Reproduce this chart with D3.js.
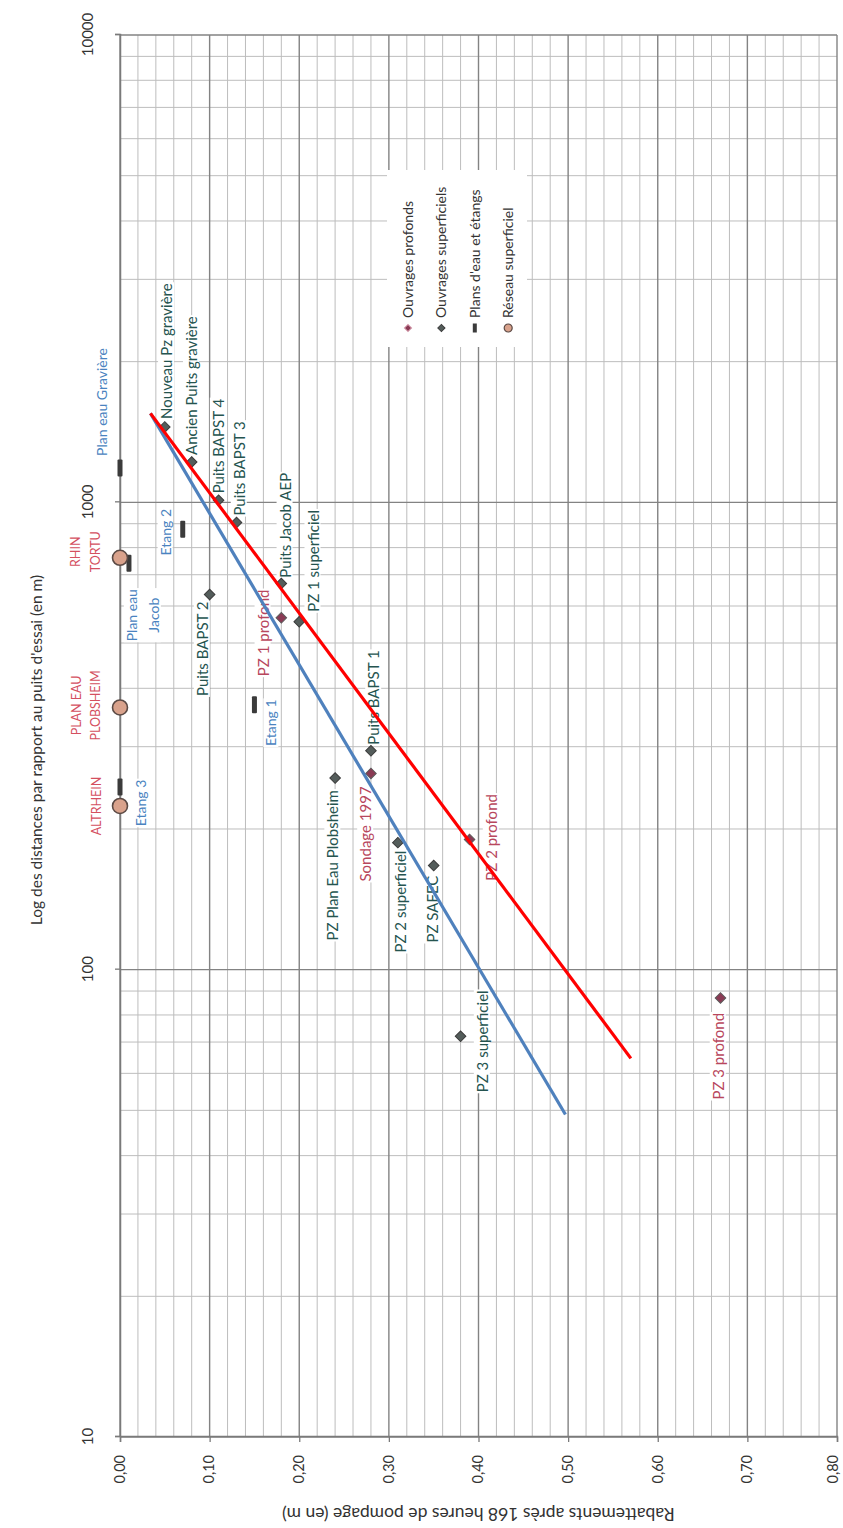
<!DOCTYPE html>
<html>
<head>
<meta charset="utf-8">
<script src="https://cdn.jsdelivr.net/npm/d3@7"></script>
<style>
  body { margin: 0; background: #fff; }
  svg { display: block; }
  text { font-family: Lato, "Open Sans", sans-serif; }
</style>
</head>
<body>
<svg id="chart" width="843" height="1528"></svg>
<script>
// ---- Data: drawdown after 168 h of pumping vs distance to the test well ----
// Deep wells
const profondsNoms = ["PZ 1 profond", "Sondage 1997", "PZ 2 profond", "PZ 3 profond"];
const profondsRab  = [0.18, 0.28, 0.39, 0.67];
const profondsDist = [566, 263, 190, 87];

// Shallow wells
const superficielsNoms = ["Nouveau Pz gravière", "Ancien Puits gravière", "Puits BAPST 4", "Puits BAPST 3",
  "Puits Jacob AEP", "PZ 1 superficiel", "Puits BAPST 2", "PZ Plan Eau Plobsheim", "Puits BAPST 1",
  "PZ 2 superficiel", "PZ SAFEC", "PZ 3 superficiel"];
const superficielsRab  = [0.05, 0.08, 0.11, 0.13, 0.18, 0.20, 0.10, 0.24, 0.28, 0.31, 0.35, 0.38];
const superficielsDist = [1450, 1220, 1010, 905, 670, 555, 635, 257, 294, 187, 167, 72];

// Lakes and ponds
const plansEauNoms = ["Plan eau Gravière", "Etang 2", "Plan eau\nJacob", "Etang 1", "Etang 3"];
const plansEauRab  = [0.00, 0.07, 0.01, 0.15, 0.00];
const plansEauDist = [1185, 876, 741, 369, 246];

// Surface network
const reseauNoms = ["RHIN\nTORTU", "PLAN EAU\nPLOBSHEIM", "ALTRHEIN"];
const reseauRab  = [0.00, 0.00, 0.00];
const reseauDist = [761, 364, 224];

// Fitted trend lines (end points)
const tendanceRougeDist = [1550, 64.6];
const tendanceRougeRab  = [0.034, 0.570];
const tendanceBleueDist = [1550, 49];
const tendanceBleueRab  = [0.034, 0.497];

// Axis ticks
const distTicks = [10, 100, 1000, 10000];
const rabTicks = [0, 0.1, 0.2, 0.3, 0.4, 0.5, 0.6, 0.7, 0.8];

const legendeNoms = ["Ouvrages profonds", "Ouvrages superficiels", "Plans d'eau et étangs", "Réseau superficiel"];

// ---- Label placement (local frame: du along distance axis, dv along drawdown axis) ----
const labelPlacement = {
  "Nouveau Pz gravière":   { anchor: "start",  du: 8,   dv: [2] },
  "Ancien Puits gravière": { anchor: "start",  du: 7,   dv: [0] },
  "Puits BAPST 4":         { anchor: "start",  du: 7,   dv: [0] },
  "Puits BAPST 3":         { anchor: "start",  du: 7,   dv: [3] },
  "Puits Jacob AEP":       { anchor: "start",  du: 6,   dv: [4] },
  "PZ 1 superficiel":      { anchor: "start",  du: 10,  dv: [14] },
  "Puits BAPST 2":         { anchor: "end",    du: -7,  dv: [-7] },
  "PZ Plan Eau Plobsheim": { anchor: "end",    du: -12, dv: [-2] },
  "Puits BAPST 1":         { anchor: "start",  du: 6,   dv: [3] },
  "PZ 2 superficiel":      { anchor: "end",    du: -8,  dv: [3] },
  "PZ SAFEC":              { anchor: "end",    du: -10, dv: [-1] },
  "PZ 3 superficiel":      { anchor: "middle", du: -5,  dv: [22] },
  "PZ 1 profond":          { anchor: "middle", du: -15, dv: [-18] },
  "Sondage 1997":          { anchor: "end",    du: -13, dv: [-5] },
  "PZ 2 profond":          { anchor: "middle", du: 2,   dv: [22] },
  "PZ 3 profond":          { anchor: "end",    du: -15, dv: [-2] },
  "Plan eau Gravière":     { anchor: "start",  du: 12,  dv: [-18] },
  "Etang 2":               { anchor: "middle", du: -3,  dv: [-17] },
  "Plan eau\nJacob":       { anchor: "middle", du: -52, dv: [3, 25] },
  "Etang 1":               { anchor: "middle", du: -18, dv: [17] },
  "Etang 3":               { anchor: "middle", du: -16, dv: [21] },
  "RHIN\nTORTU":           { anchor: "middle", du: 6,   dv: [-44, -24] },
  "PLAN EAU\nPLOBSHEIM":   { anchor: "middle", du: 2,   dv: [-43, -24] },
  "ALTRHEIN":              { anchor: "middle", du: 0,   dv: [-23] }
};

// ---- Layout ----
const W = 843, H = 1528;
const originX = 120, originY = 1437;   // drawdown 0 / distance 10
const plotLen = 1402;                  // distance axis length
const plotDepth = 717;                 // drawdown axis length

const svg = d3.select("#chart");
svg.append("rect").attr("width", W).attr("height", H).attr("fill", "#fff");

// The chart is laid out with distance along the local x axis and drawdown along local y,
// then turned a quarter turn so distance runs upward on the page.
const g = svg.append("g").attr("transform", `translate(${originX},${originY}) rotate(-90)`);

const xDist = d3.scaleLog().domain([10, 10000]).range([0, plotLen]);
const yRab = d3.scaleLinear().domain([0, 0.8]).range([0, plotDepth]);

// ---- Gridlines ----
const gridMinor = "#bdbdbd", gridMajor = "#838383";
const distGrid = [];
[10, 100, 1000].forEach(dec => { for (let k = 2; k <= 9; k++) distGrid.push(k * dec); });
const rabGrid = d3.range(1, 40).map(i => i / 50).filter(v => Math.round(v * 50) % 5 !== 0);

const grid = g.append("g");
grid.selectAll(".gd").data(distGrid).join("line")
  .attr("x1", d => xDist(d)).attr("x2", d => xDist(d))
  .attr("y1", 0).attr("y2", plotDepth)
  .attr("stroke", gridMinor).attr("stroke-width", 1);
grid.selectAll(".gr").data(rabGrid).join("line")
  .attr("x1", 0).attr("x2", plotLen)
  .attr("y1", d => yRab(d)).attr("y2", d => yRab(d))
  .attr("stroke", gridMinor).attr("stroke-width", 1);
grid.selectAll(".gdM").data(distTicks).join("line")
  .attr("x1", d => xDist(d)).attr("x2", d => xDist(d))
  .attr("y1", 0).attr("y2", plotDepth)
  .attr("stroke", gridMajor).attr("stroke-width", 1.4);
grid.selectAll(".grM").data(rabTicks).join("line")
  .attr("x1", 0).attr("x2", plotLen)
  .attr("y1", d => yRab(d)).attr("y2", d => yRab(d))
  .attr("stroke", gridMajor).attr("stroke-width", 1.4);

// ---- Axes ----
const axDist = g.append("g")
  .call(d3.axisTop(xDist).tickValues(distTicks).tickFormat(d3.format("d")).tickSize(5).tickPadding(22));
const axRab = g.append("g")
  .call(d3.axisLeft(yRab).tickValues(rabTicks)
    .tickFormat(d => d3.format(".2f")(d).replace(".", ",")).tickSize(5).tickPadding(13));
[axDist, axRab].forEach(ax => {
  ax.select(".domain").attr("stroke", "#7a7a7a").attr("stroke-width", 1.5);
  ax.selectAll(".tick line").attr("stroke", "#7a7a7a").attr("stroke-width", 1.3);
  ax.selectAll(".tick text").attr("fill", "#333").style("font-size", "15px")
    .style("font-family", "Lato, sans-serif");
});
axRab.selectAll(".tick text").attr("dy", "0.3em").style("font-size", "14.5px");
// keep the last drawdown label inside the page edge
axRab.selectAll(".tick text").filter(d => d === rabTicks[rabTicks.length - 1]).attr("y", -4);

// Axis titles
g.append("text")
  .attr("x", 687).attr("y", -78)
  .attr("text-anchor", "middle")
  .attr("fill", "#333").style("font-size", "15.5px")
  .text("Log des distances par rapport au puits d'essai (en m)");
g.append("text")
  .attr("transform", `translate(-71,${yRab(0.4)}) rotate(-90)`)
  .attr("text-anchor", "middle")
  .attr("fill", "#333").style("font-size", "17.5px")
  .text("Rabattements après 168 heures de pompage  (en m)");

// ---- Data labels ----
const labelLayer = g.append("g");
function drawLabels(names, rabs, dists, color, size) {
  names.forEach((name, i) => {
    const p = labelPlacement[name];
    const lines = name.split("\n");
    const lg = labelLayer.append("g");
    const t = lg.append("text")
      .attr("fill", color).style("font-size", size + "px")
      .attr("text-anchor", p.anchor);
    lines.forEach((ln, j) => {
      t.append("tspan")
        .attr("x", xDist(dists[i]) + p.du)
        .attr("y", yRab(rabs[i]) + p.dv[j])
        .attr("dy", "0.35em")
        .text(ln);
    });
    const bb = t.node().getBBox();
    lg.insert("rect", "text")
      .attr("x", bb.x - 1).attr("y", bb.y + 1)
      .attr("width", bb.width + 2).attr("height", bb.height - 2)
      .attr("fill", "#fff");
  });
}
const colSup = "#25544f", colProf = "#b8475d", colPlan = "#4a83c0", colRes = "#d4505f";
drawLabels(superficielsNoms, superficielsRab, superficielsDist, colSup, 15);
drawLabels(profondsNoms, profondsRab, profondsDist, colProf, 15);
drawLabels(plansEauNoms, plansEauRab, plansEauDist, colPlan, 14);
drawLabels(reseauNoms, reseauRab, reseauDist, colRes, 12.5);

// ---- Markers ----
const diamond = d3.symbol(d3.symbolSquare, 56);
const markers = g.append("g");
function drawDiamonds(rabs, dists, fill, stroke) {
  markers.append("g").selectAll("path").data(rabs).join("path")
    .attr("d", diamond)
    .attr("transform", (r, i) => `translate(${xDist(dists[i])},${yRab(r)}) rotate(45)`)
    .attr("fill", fill).attr("stroke", stroke).attr("stroke-width", 1);
}
drawDiamonds(superficielsRab, superficielsDist, "#545d5b", "#3a3a3a");
drawDiamonds(profondsRab, profondsDist, "#8a3a54", "#5c5c5c");

markers.append("g").selectAll("rect").data(plansEauRab).join("rect")
  .attr("x", (r, i) => xDist(plansEauDist[i]) - 8.5)
  .attr("y", r => yRab(r) - 2.5)
  .attr("width", 17).attr("height", 5).attr("rx", 1)
  .attr("fill", "#3b3b3b");

markers.append("g").selectAll("circle").data(reseauRab).join("circle")
  .attr("cx", (r, i) => xDist(reseauDist[i]))
  .attr("cy", r => yRab(r))
  .attr("r", 7.5)
  .attr("fill", "#d9a28c").attr("stroke", "#5b4a45").attr("stroke-width", 1.6);

// ---- Trend lines ----
const trend = d3.line().x(d => xDist(d[0])).y(d => yRab(d[1]));
g.append("path")
  .attr("d", trend(d3.zip(tendanceBleueDist, tendanceBleueRab)))
  .attr("fill", "none").attr("stroke", "#4f81bd").attr("stroke-width", 3.2);
g.append("path")
  .attr("d", trend(d3.zip(tendanceRougeDist, tendanceRougeRab)))
  .attr("fill", "none").attr("stroke", "#ff0000").attr("stroke-width", 3.2);

// ---- Legend ----
const leg = g.append("g").attr("transform", "translate(1090,267)");
leg.append("rect").attr("width", 177).attr("height", 140).attr("fill", "#fff");
const legRows = leg.selectAll(".row").data(legendeNoms).join("g")
  .attr("transform", (d, i) => `translate(19,${21 + i * 33.4})`);
legRows.each(function (d, i) {
  const row = d3.select(this);
  if (i === 0 || i === 1) {
    row.append("path").attr("d", d3.symbol(d3.symbolSquare, 26))
      .attr("transform", "rotate(45)")
      .attr("fill", i === 0 ? "#8a3a54" : "#545d5b")
      .attr("stroke", i === 0 ? "#d9a0b0" : "#3a3a3a").attr("stroke-width", 1);
  } else if (i === 2) {
    row.append("rect").attr("x", -4.5).attr("y", -2).attr("width", 9).attr("height", 4).attr("fill", "#3b3b3b");
  } else {
    row.append("circle").attr("r", 4).attr("fill", "#d9a28c").attr("stroke", "#5b4a45").attr("stroke-width", 1.2);
  }
  row.append("text").attr("x", 10).attr("dy", "0.35em")
    .attr("fill", "#333").style("font-size", "14px").text(d);
});
</script>
</body>
</html>
